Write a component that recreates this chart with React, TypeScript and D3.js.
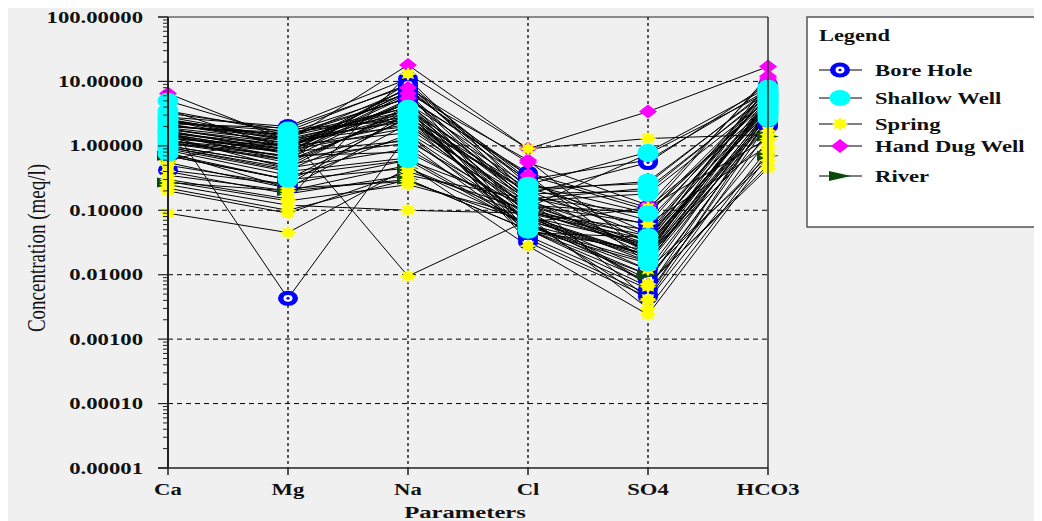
import React from "react";
import * as d3 from "d3";

const params = ["Ca", "Mg", "Na", "Cl", "SO4", "HCO3"];
const yTicks = [100, 10, 1, 0.1, 0.01, 0.001, 0.0001, 0.00001];

// [Ca, Mg, Na, Cl, SO4, HCO3] in meq/l
const boreHole = [
  [1.8, 1.1, 4.5, 0.15, 0.02, 5.0],
  [2.2, 1.9, 8.5, 0.3, 0.6, 7.5],
  [1.2, 0.8, 6.0, 0.12, 0.03, 4.2],
  [0.42, 0.25, 3.2, 0.05, 0.008, 2.5],
  [2.4, 0.0043, 1.5, 0.08, 0.012, 3.0],
  [1.5, 0.6, 9.5, 0.25, 0.09, 6.5],
  [2.5, 1.4, 5.5, 0.2, 0.04, 8.0],
  [1.0, 0.5, 3.8, 0.036, 0.005, 2.2],
  [1.3, 0.9, 7.0, 0.35, 0.015, 5.5],
  [0.7, 0.3, 2.8, 0.06, 0.01, 3.5],
  [1.9, 1.2, 4.0, 0.1, 0.025, 4.8],
  [2.8, 2.0, 11.0, 0.18, 0.55, 9.0],
  [1.1, 0.7, 5.0, 0.04, 0.006, 3.2],
  [1.6, 1.0, 3.0, 0.09, 0.05, 6.0],
  [0.8, 0.22, 2.2, 0.07, 0.02, 2.0],
  [2.0, 1.6, 6.5, 0.14, 0.035, 7.0],
  [1.4, 0.45, 4.2, 0.032, 0.0045, 2.8],
  [1.7, 0.8, 8.0, 0.22, 0.07, 5.8],
  [1.25, 0.55, 3.4, 0.11, 0.028, 4.4],
  [2.1, 1.3, 7.5, 0.28, 0.045, 6.2],
  [1.55, 0.75, 5.2, 0.38, 0.11, 3.9],
  [0.95, 0.42, 2.6, 0.065, 0.0085, 2.4],
  [2.3, 1.7, 9.0, 0.16, 0.06, 7.8],
  [1.15, 0.62, 4.8, 0.085, 0.016, 3.6],
  [1.85, 0.95, 6.8, 0.045, 0.038, 5.0],
];

const shallowWell = [
  [5.0, 1.4, 3.5, 0.25, 0.8, 8.0],
  [3.2, 1.8, 2.5, 0.2, 0.28, 7.0],
  [2.5, 1.2, 2.0, 0.15, 0.22, 6.0],
  [1.8, 1.0, 1.6, 0.12, 0.09, 5.0],
  [1.4, 0.8, 1.2, 0.1, 0.04, 4.5],
  [1.1, 0.6, 3.0, 0.08, 0.03, 3.8],
  [0.9, 0.4, 0.65, 0.06, 0.02, 3.0],
  [0.75, 0.3, 1.5, 0.05, 0.015, 2.6],
  [2.0, 1.5, 3.9, 0.18, 0.2, 6.5],
  [1.6, 0.9, 2.2, 0.13, 0.025, 4.0],
  [3.5, 1.6, 2.8, 0.22, 0.26, 7.5],
  [1.2, 0.7, 0.8, 0.09, 0.035, 3.5],
  [2.8, 1.3, 3.2, 0.16, 0.088, 5.5],
  [1.0, 0.5, 1.3, 0.07, 0.018, 2.8],
  [2.2, 1.1, 2.6, 0.11, 0.75, 6.8],
  [1.5, 0.65, 1.1, 0.048, 0.024, 4.2],
  [0.85, 0.35, 0.6, 0.055, 0.016, 3.2],
  [1.3, 1.0, 3.6, 0.14, 0.18, 5.2],
  [2.6, 1.25, 2.4, 0.19, 0.022, 5.8],
  [1.7, 0.85, 1.9, 0.1, 0.027, 4.6],
  [0.95, 0.45, 0.9, 0.075, 0.02, 3.4],
];

const spring = [
  [0.09, 0.045, 0.45, 0.06, 0.012, 0.6],
  [0.25, 0.12, 0.1, 0.09, 0.007, 0.5],
  [0.6, 1.5, 0.0095, 0.07, 0.004, 0.9],
  [0.3, 0.15, 13.0, 0.9, 1.3, 1.5],
  [0.35, 0.2, 0.5, 0.028, 0.0024, 0.7],
  [0.22, 0.1, 0.3, 0.05, 0.0065, 1.2],
  [0.5, 0.25, 0.6, 0.12, 0.062, 1.0],
  [0.28, 0.14, 0.25, 0.08, 0.003, 0.8],
  [0.4, 0.18, 0.35, 0.15, 0.0042, 1.7],
  [0.2, 0.09, 0.4, 0.1, 0.0072, 0.45],
  [0.55, 0.22, 0.28, 0.065, 0.11, 1.3],
];

const handDugWell = [
  [6.5, 1.2, 18.0, 0.9, 3.4, 17.0],
  [3.6, 0.9, 8.0, 0.55, 0.12, 11.0],
  [2.0, 1.5, 5.5, 0.35, 0.1, 12.0],
  [1.5, 0.8, 6.5, 0.6, 0.02, 9.0],
  [2.5, 1.0, 4.5, 0.3, 0.03, 10.0],
];

const river = [
  [0.27, 0.2, 0.3, 0.05, 0.01, 0.7],
  [0.7, 0.3, 0.45, 0.08, 0.02, 1.4],
];

const groups = [
  { name: "Bore Hole", rows: boreHole, kind: "ring" },
  { name: "Hand Dug Well", rows: handDugWell, kind: "diamond" },
  { name: "River", rows: river, kind: "arrow" },
  { name: "Spring", rows: spring, kind: "star" },
  { name: "Shallow Well", rows: shallowWell, kind: "circle" },
];
const legendOrder = ["Bore Hole", "Shallow Well", "Spring", "Hand Dug Well", "River"];
const legendY = [70, 98, 124, 146, 176];

const SX = 1.42;
const FONT = "'Liberation Serif', 'Times New Roman', serif";

function starPath() {
  const pts: string[] = [];
  const n = 8;
  for (let i = 0; i < n * 2; i++) {
    const a = (Math.PI * i) / n - Math.PI / 2;
    const r = i % 2 === 0 ? 7 : 4;
    pts.push(`${(Math.cos(a) * r * 1.25).toFixed(2)},${(Math.sin(a) * r).toFixed(2)}`);
  }
  return "M" + pts.join("L") + "Z";
}
const STAR = starPath();

function Marker({ kind, x, y }: { kind: string; x: number; y: number }) {
  if (kind === "ring")
    return (
      <g transform={`translate(${x},${y})`}>
        <ellipse rx={10} ry={7.5} fill="#0000ff" />
        <ellipse rx={4.5} ry={3.4} fill="#ffffff" />
        <ellipse rx={1.6} ry={1.3} fill="#0000ff" />
      </g>
    );
  if (kind === "circle")
    return <ellipse cx={x} cy={y} rx={10.5} ry={8} fill="#00ffff" />;
  if (kind === "diamond")
    return (
      <path
        transform={`translate(${x},${y})`}
        d="M-9,0L0,-7L9,0L0,7Z"
        fill="#ff00ff"
      />
    );
  if (kind === "star")
    return <path transform={`translate(${x},${y})`} d={STAR} fill="#ffff00" />;
  return (
    <path
      transform={`translate(${x},${y})`}
      d="M-11,-5L11,0L-11,5Z"
      fill="#0b4a0b"
    />
  );
}

export default function App() {
  const x = d3.scalePoint<string>().domain(params).range([168, 768]);
  const y = d3.scaleLog().domain([1e-5, 100]).range([468, 17]);
  const line = d3
    .line<number>()
    .x((_, i) => x(params[i]) as number)
    .y((d) => y(d));

  const minor: number[] = [];
  for (let e = -5; e < 2; e++) for (let m = 2; m <= 9; m++) minor.push(m * Math.pow(10, e));
  const fmt = d3.format(".5f");

  const allRows = groups.flatMap((g) => g.rows);

  return (
    <svg width={1034} height={513} style={{ display: "block" }}>
      <g transform="translate(-8,-8)">
        <rect x={8} y={8} width={1034} height={513} fill="#f0f0f0" />

        {/* gridlines */}
        {yTicks.slice(1, -1).map((t) => (
          <line key={"h" + t} x1={168} x2={768} y1={y(t)} y2={y(t)} stroke="#000" strokeWidth={1} strokeDasharray="5,4" />
        ))}
        {params.slice(1, -1).map((p) => (
          <line key={"v" + p} x1={x(p)} x2={x(p)} y1={17} y2={468} stroke="#000" strokeWidth={1.3} strokeDasharray="3,3" />
        ))}

        {/* sample lines */}
        {allRows.map((r, i) => (
          <path key={"l" + i} d={line(r) as string} fill="none" stroke="#000" strokeWidth={1} />
        ))}

        {/* markers */}
        {groups.map((g) =>
          g.rows.map((r, i) =>
            r.map((v, j) => (
              <Marker key={g.name + i + "-" + j} kind={g.kind} x={x(params[j]) as number} y={y(v)} />
            ))
          )
        )}

        {/* axes frame */}
        <line x1={158} x2={768} y1={17} y2={17} stroke="#222" strokeWidth={1.2} />
        <line x1={768} x2={768} y1={17} y2={468} stroke="#333" strokeWidth={1.5} />
        <line x1={158} x2={768} y1={468} y2={468} stroke="#222" strokeWidth={1.5} />
        <line x1={168} x2={168} y1={17} y2={468} stroke="#222" strokeWidth={2} />
        {yTicks.map((t) => (
          <line key={"mt" + t} x1={158} x2={168} y1={y(t)} y2={y(t)} stroke="#222" strokeWidth={1.2} />
        ))}
        {minor.map((t) => (
          <line key={"mn" + t} x1={163} x2={168} y1={y(t)} y2={y(t)} stroke="#222" strokeWidth={1} />
        ))}
        {params.map((p) => (
          <line key={"xt" + p} x1={x(p)} x2={x(p)} y1={468} y2={475} stroke="#222" strokeWidth={1.5} />
        ))}

        {/* tick labels */}
        {yTicks.map((t) => (
          <text
            key={"yl" + t}
            transform={`translate(143,${y(t) + 5.5}) scale(${SX},1)`}
            textAnchor="end"
            fontFamily={FONT}
            fontWeight="bold"
            fontSize={16}
            fill="#111"
          >
            {fmt(t)}
          </text>
        ))}
        {params.map((p) => (
          <text
            key={"xl" + p}
            transform={`translate(${x(p)},495) scale(${SX},1)`}
            textAnchor="middle"
            fontFamily={FONT}
            fontWeight="bold"
            fontSize={16}
            fill="#111"
          >
            {p}
          </text>
        ))}
        <text
          transform={`translate(465,518) scale(1.45,1)`}
          textAnchor="middle"
          fontFamily={FONT}
          fontWeight="bold"
          fontSize={17}
          fill="#111"
        >
          Parameters
        </text>
        <text
          transform={`translate(45,248) scale(1.3,1) rotate(-90)`}
          textAnchor="middle"
          fontFamily={FONT}
          fontSize={19}
          fill="#111"
        >
          Concentration (meq/l)
        </text>

        {/* legend */}
        <rect x={807} y={17} width={250} height={210} fill="#ffffff" stroke="#555" strokeWidth={1.5} />
        <text
          transform={`translate(819,41) scale(1.4,1)`}
          fontFamily={FONT}
          fontWeight="bold"
          fontSize={16}
          fill="#111"
        >
          Legend
        </text>
        {legendOrder.map((name, i) => {
          const g = groups.find((gg) => gg.name === name)!;
          const ly = legendY[i];
          return (
            <g key={"lg" + name}>
              <line x1={819} x2={862} y1={ly} y2={ly} stroke="#000" strokeWidth={1} />
              <Marker kind={g.kind} x={840} y={ly} />
              <text
                transform={`translate(875,${ly + 5.5}) scale(1.42,1)`}
                fontFamily={FONT}
                fontWeight="bold"
                fontSize={16}
                fill="#111"
              >
                {name}
              </text>
            </g>
          );
        })}
      </g>
    </svg>
  );
}
